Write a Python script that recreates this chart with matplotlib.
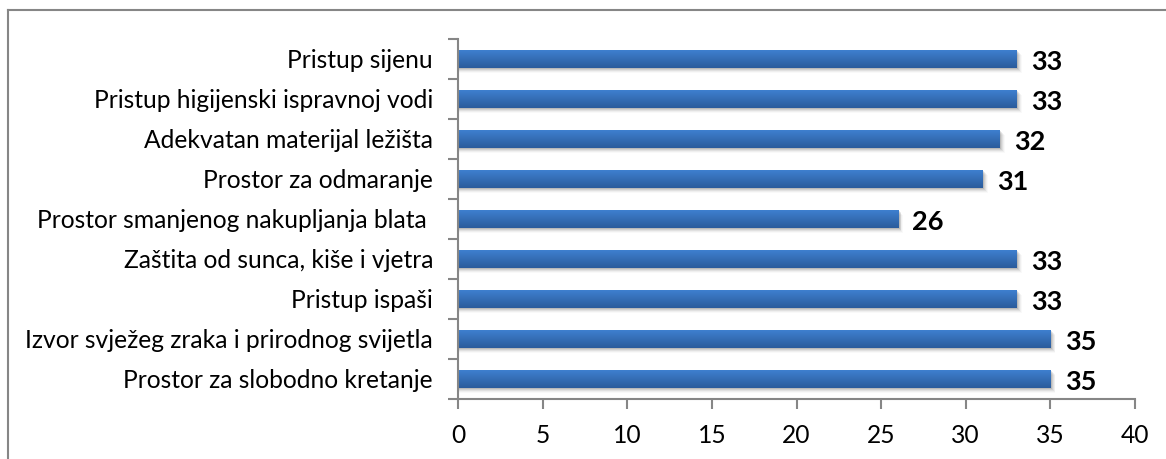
import matplotlib
matplotlib.use("Agg")
import matplotlib.pyplot as plt
import numpy as np
from matplotlib.lines import Line2D

categories = ["Pristup sijenu", "Pristup higijenski ispravnoj vodi", "Adekvatan materijal ležišta",
              "Prostor za odmaranje", "Prostor smanjenog nakupljanja blata ",
              "Zaštita od sunca, kiše i vjetra", "Pristup ispaši",
              "Izvor svježeg zraka i prirodnog svijetla", "Prostor za slobodno kretanje"]
values = [33, 33, 32, 31, 26, 33, 33, 35, 35]
xticks = [0, 5, 10, 15, 20, 25, 30, 35, 40]

plt.rcParams["font.family"] = ["Lato", "DejaVu Sans"]
AX_C = "#868686"

fig = plt.figure(figsize=(11.66, 4.59), dpi=100)
ax = fig.add_axes([458/1166, 1 - 399/459, (1135 - 458)/1166, 360/459])

# frame around the chart area (right/bottom edges are cropped in the original)
fig.add_artist(Line2D([8/1166, 1], [1 - 10/459] * 2, color=AX_C, lw=1.5, transform=fig.transFigure))
fig.add_artist(Line2D([8/1166] * 2, [0, 1 - 10/459], color=AX_C, lw=1.5, transform=fig.transFigure))

grad = np.linspace(0, 1, 64).reshape(-1, 1)
cmap = matplotlib.colors.LinearSegmentedColormap.from_list("bar", ["#3e7fcf", "#2b5c9c"])
h = 0.43
y = np.arange(len(categories))
for yi, v in zip(y, values):
    # soft shadow under each bar
    for k, a in enumerate([0.10, 0.08, 0.06, 0.04, 0.025]):
        off = 0.025 * (k + 1)
        ax.add_patch(plt.Rectangle((0.05, yi - h/2 + off), v + 0.05 * (k + 1), h, color="#000000",
                                   alpha=a, lw=0, zorder=1))
    ax.imshow(grad, cmap=cmap, aspect="auto", extent=[0, v, yi + h/2, yi - h/2], zorder=2)
    ax.text(v + 0.85, yi + 0.07, f"{v}", va="center", ha="left", fontsize=19.5, weight="bold", zorder=3)

ax.set_xlim(0, 40)
ax.set_ylim(len(categories) - 0.5, -0.5)
ax.set_xticks(xticks)
ax.set_yticks(y)
ax.set_yticklabels(categories, fontsize=17.7)
ax.set_yticks(np.arange(len(categories) + 1) - 0.5, minor=True)
ax.tick_params(axis="y", which="major", length=0, pad=18)
ax.tick_params(axis="y", which="minor", length=7, width=1.5, color=AX_C)
ax.tick_params(axis="x", length=7, width=1.5, color=AX_C, labelsize=17.7, pad=11)
for s in ("top", "right"):
    ax.spines[s].set_visible(False)
for s in ("left", "bottom"):
    ax.spines[s].set_color(AX_C)
    ax.spines[s].set_linewidth(1.5)

fig.savefig("out.png", dpi=100)
